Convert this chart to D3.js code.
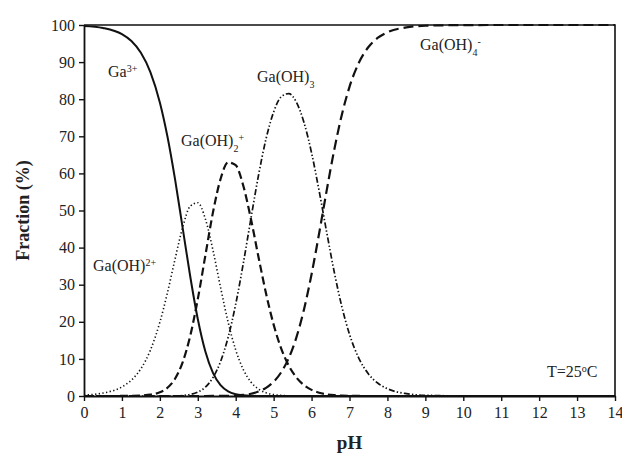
<!DOCTYPE html>
<html>
<head>
<meta charset="utf-8">
<script src="https://cdn.jsdelivr.net/npm/d3@7"></script>
<style>
  html, body { margin: 0; padding: 0; background: #fff; }
  svg { display: block; }
  text { font-family: "Liberation Serif", "DejaVu Serif", serif; fill: #222; }
</style>
</head>
<body>
<svg id="chart" width="622" height="455"></svg>
<script>
// Gallium(III) hydrolysis speciation vs pH at 25 °C (fraction in %)
const pH = [0, 0.5, 1.0, 1.25, 1.5, 1.75, 2.0, 2.2, 2.4, 2.6, 2.8, 3.0, 3.2, 3.4, 3.6, 3.8,
            4.0, 4.2, 4.4, 4.6, 4.8, 5.0, 5.2, 5.4, 5.6, 5.8, 6.0, 6.2, 6.4, 6.6, 6.8,
            7.0, 7.25, 7.5, 7.75, 8.0, 8.5, 9.0, 10, 11, 12, 13, 14];

const ga3 = [99.75, 99.21, 97.54, 95.68, 92.53, 87.31, 79.13, 69.94, 58.44, 45.40, 32.27, 20.74, 11.99, 6.23, 2.93, 1.26,
             0.49, 0.18, 0.06, 0.02, 0, 0, 0, 0, 0, 0, 0, 0, 0, 0, 0,
             0, 0, 0, 0, 0, 0, 0, 0, 0, 0, 0, 0];

const gaOH = [0.25, 0.79, 2.45, 4.28, 7.35, 12.34, 19.88, 27.84, 36.88, 45.40, 51.15, 52.10, 47.72, 39.32, 29.31, 19.91,
              12.41, 7.13, 3.80, 1.88, 0.87, 0.38, 0.16, 0.06, 0.03, 0.01, 0, 0, 0, 0, 0,
              0, 0, 0, 0, 0, 0, 0, 0, 0, 0, 0, 0];

const gaOH2 = [0, 0, 0.01, 0.04, 0.12, 0.35, 1.00, 2.21, 4.64, 9.06, 16.17, 26.11, 37.90, 49.50, 58.47, 62.96,
               62.20, 56.66, 47.77, 37.49, 27.60, 19.23, 12.78, 8.15, 5.00, 2.94, 1.65, 0.88, 0.44, 0.21, 0.10,
               0.04, 0.01, 0, 0, 0, 0, 0, 0, 0, 0, 0, 0];

const gaOH3 = [0, 0, 0, 0, 0, 0, 0, 0.01, 0.05, 0.14, 0.41, 1.04, 2.39, 4.95, 9.27, 15.82,
               24.76, 35.75, 47.77, 59.43, 69.33, 76.55, 80.65, 81.52, 79.18, 73.74, 65.52, 55.24, 44.07, 33.32, 24.00,
               16.63, 10.09, 5.94, 3.43, 1.96, 0.63, 0.20, 0.02, 0, 0, 0, 0];

const gaOH4 = [0, 0, 0, 0, 0, 0, 0, 0, 0, 0, 0, 0, 0, 0.01, 0.02, 0.05,
               0.12, 0.28, 0.60, 1.19, 2.19, 3.84, 6.41, 10.26, 15.80, 23.32, 32.84, 43.88, 55.49, 66.47, 75.90,
               83.33, 89.90, 94.06, 96.57, 98.04, 99.37, 99.80, 99.98, 100, 100, 100, 100];

const xTicks = d3.range(0, 15, 1);
const yTicks = d3.range(0, 101, 10);

const svg = d3.select("#chart");
const x = d3.scaleLinear().domain([0, 14]).range([84, 615]);
const y = d3.scaleLinear().domain([0, 100]).range([396, 25]);

// frame (top and right edges)
svg.append("path")
  .attr("d", `M${x(0)},${y(100)}H${x(14)}V${y(0)}`)
  .attr("fill", "none").attr("stroke", "#111").attr("stroke-width", 1.6);

const yAxis = svg.append("g")
  .attr("transform", `translate(${x(0)},0)`)
  .call(d3.axisLeft(y).tickValues(yTicks).tickSize(5).tickSizeOuter(0).tickPadding(4));
const xAxis = svg.append("g")
  .attr("transform", `translate(0,${y(0)})`)
  .call(d3.axisBottom(x).tickValues(xTicks).tickSize(5).tickSizeOuter(0).tickPadding(6));

[yAxis, xAxis].forEach(a => {
  a.select(".domain").attr("stroke", "#111").attr("stroke-width", 1.8);
  a.selectAll(".tick line").attr("stroke", "#111").attr("stroke-width", 1.4);
  a.selectAll(".tick text")
    .style("font-family", "'Liberation Serif', serif")
    .style("font-size", "16px").attr("fill", "#333");
});

// species curves
const series = [
  { values: ga3,   dash: null,                    width: 2.0 },
  { values: gaOH,  dash: "1.3,2.4",               width: 1.6 },
  { values: gaOH2, dash: "8,4",                   width: 2.2 },
  { values: gaOH3, dash: "6,2.2,1.4,2.2,1.4,2.2", width: 1.7 },
  { values: gaOH4, dash: "10,5",                  width: 2.2 }
];

const line = d3.line()
  .x((d, i) => x(pH[i]))
  .y(d => y(d))
  .curve(d3.curveMonotoneX);

svg.append("g").selectAll("path")
  .data(series)
  .join("path")
  .attr("d", s => line(s.values))
  .attr("fill", "none")
  .attr("stroke", "#111")
  .attr("stroke-width", s => s.width)
  .attr("stroke-dasharray", s => s.dash);

// species labels
function label(px, py, parts) {
  const t = svg.append("text").attr("x", px).attr("y", py).style("font-size", "16px");
  parts.forEach(p => {
    const ts = t.append("tspan").text(p.t);
    if (p.sup) ts.attr("baseline-shift", "super").style("font-size", "10px");
    if (p.sub) ts.attr("baseline-shift", "sub").style("font-size", "10px");
  });
  return t;
}

label(108, 77,  [{ t: "Ga" }, { t: "3+", sup: true }]);
label(93, 271,  [{ t: "Ga(OH)" }, { t: "2+", sup: true }]);
label(181, 146, [{ t: "Ga(OH)" }, { t: "2", sub: true }, { t: "+", sup: true }]);
label(257, 82,  [{ t: "Ga(OH)" }, { t: "3", sub: true }]);
label(420, 50,  [{ t: "Ga(OH)" }, { t: "4", sub: true }, { t: "-", sup: true }]);
label(547, 377, [{ t: "T=25" }, { t: "o", sup: true }, { t: "C" }]);

// axis titles
svg.append("text")
  .attr("x", (x(0) + x(14)) / 2).attr("y", 449)
  .attr("text-anchor", "middle")
  .style("font-size", "19px").style("font-weight", "bold")
  .text("pH");

svg.append("text")
  .attr("transform", `translate(29,${(y(0) + y(100)) / 2}) rotate(-90)`)
  .attr("text-anchor", "middle")
  .style("font-size", "18px").style("font-weight", "bold")
  .text("Fraction (%)");
</script>
</body>
</html>
